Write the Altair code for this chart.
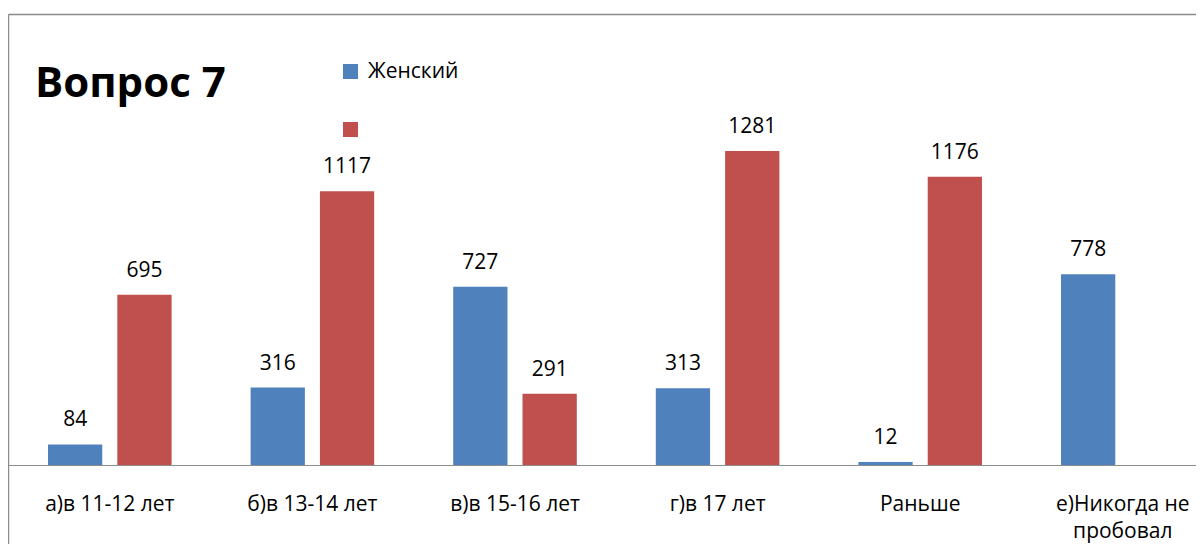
import altair as alt
import pandas as pd

categories = ["а)в 11-12 лет", "б)в 13-14 лет", "в)в 15-16 лет", "г)в 17 лет", "Раньше", "е)Никогда не пробовал"]
series_names = ["Женский", "Мужской"]
female = [84, 316, 727, 313, 12, 778]
male = [695, 1117, 291, 1281, 1176, None]
colors = ["#4F81BD", "#C0504D"]
title_text = "Вопрос 7"

rows = []
for c, f, m in zip(categories, female, male):
    if f is not None:
        rows.append({"cat": c, "series": series_names[0], "value": f})
    if m is not None:
        rows.append({"cat": c, "series": series_names[1], "value": m})
df = pd.DataFrame(rows)

FONT = "Open Sans"
W, H = 1187, 450

x_enc = alt.X("cat:N", sort=categories,
              scale=alt.Scale(range=[-0.5, 1215.1], paddingInner=0.39, paddingOuter=0.195, round=False),
              axis=alt.Axis(title=None, labelAngle=0, ticks=False, tickSize=0,
                            domainColor="#8c8c8c", domainWidth=1,
                            labelFont=FONT, labelFontSize=21, labelColor="#000000",
                            labelPadding=28, labelLineHeight=27, labelLimit=400,
                            labelOverlap=False,
                            labelExpr="datum.label == 'е)Никогда не пробовал' ? ['е)Никогда не', 'пробовал'] : datum.label"))
xoff = alt.XOffset("series:N", sort=series_names,
                   scale=alt.Scale(domain=series_names, paddingInner=0.217, paddingOuter=0, round=False))
y_enc = alt.Y("value:Q", scale=alt.Scale(domain=[0, 1836], nice=False), axis=None)
color_enc = alt.Color("series:N", sort=series_names,
                      scale=alt.Scale(domain=series_names, range=colors),
                      legend=alt.Legend(title=None, orient="none", legendX=331, legendY=46,
                                        symbolType="square", symbolSize=225, symbolStrokeWidth=0,
                                        labelFont=FONT, labelFontSize=21, labelColor="#000000",
                                        labelOffset=7, rowPadding=36, padding=0,
                                        labelExpr="datum.label == 'Женский' ? datum.label : ''"))

base = alt.Chart(df).encode(x=x_enc, xOffset=xoff, y=y_enc)
bars = base.mark_bar().encode(color=color_enc)
labels = base.mark_text(font=FONT, fontSize=21, color="#000000", baseline="alphabetic",
                        dy=-18).encode(text=alt.Text("value:Q"))

title_df = pd.DataFrame({"t": [title_text]})
title = alt.Chart(title_df).mark_text(font=FONT, fontSize=42, fontWeight="bold", color="#000000",
                                      align="left", baseline="alphabetic").encode(
    x=alt.value(26), y=alt.value(82), text="t:N")

one = alt.Data(values=[{"k": 1}])
top_border = alt.Chart(one).mark_rule(stroke="#8a8a8a", strokeWidth=1.4).encode(
    x=alt.value(-0.5), x2=alt.value(W), y=alt.value(-0.5))
left_border = alt.Chart(one).mark_rule(stroke="#8a8a8a", strokeWidth=1.4).encode(
    x=alt.value(-0.5), y=alt.value(-0.5), y2=alt.value(530))

chart = alt.layer(top_border, left_border, bars, labels, title).properties(
    width=W, height=H,
    autosize=alt.AutoSizeParams(type="none"),
    padding={"left": 1, "top": 7, "right": 0, "bottom": 79},
    background="#ffffff",
).configure_view(stroke=None)

chart.save("out.html", embed_options={"renderer": "svg", "actions": False})
